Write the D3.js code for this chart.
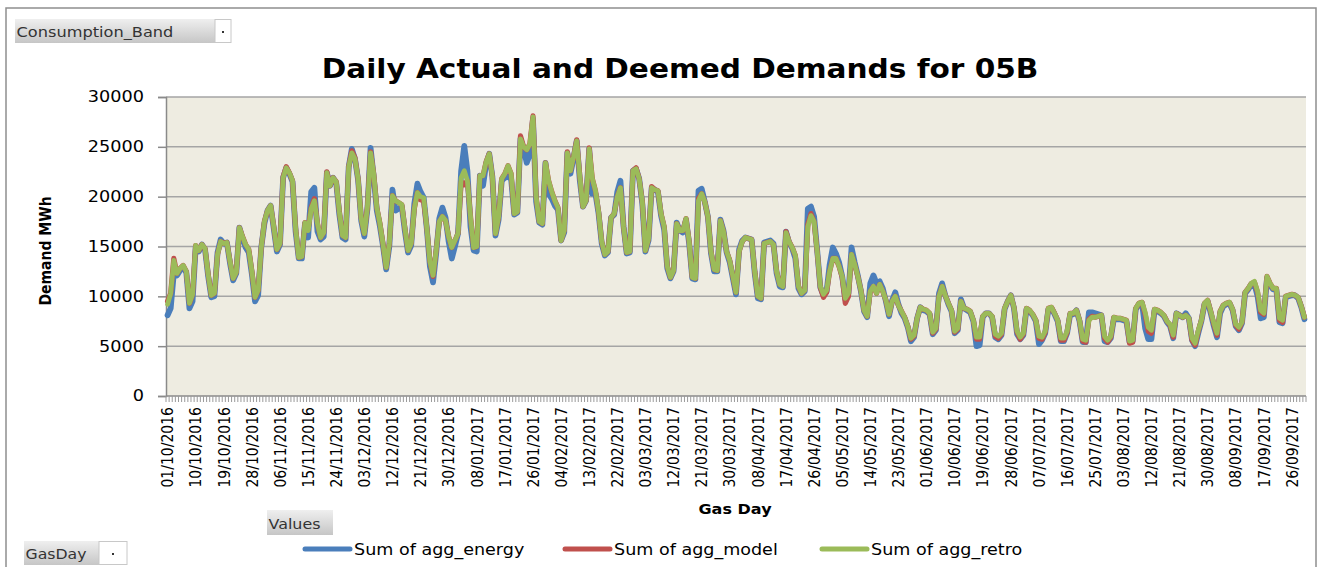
<!DOCTYPE html>
<html>
<head>
<meta charset="utf-8">
<script src="https://cdn.jsdelivr.net/npm/d3@7"></script>
<style>
  body { margin: 0; background: #fff; }
  svg text { font-family: "DejaVu Sans", Verdana, sans-serif; }
</style>
</head>
<body>
<div id="viz"></div>
<script>
// gas days 01/10/2016 .. 30/09/2017
const gasDays = d3.timeDay.range(new Date(2016, 9, 1), new Date(2017, 9, 1));
const fmtDay = d3.timeFormat("%d/%m/%Y");
const categories = gasDays.map(fmtDay);

const tickLabels = [
  "01/10/2016", "10/10/2016", "19/10/2016", "28/10/2016", "06/11/2016", "15/11/2016", "24/11/2016",
  "03/12/2016", "12/12/2016", "21/12/2016", "30/12/2016", "08/01/2017", "17/01/2017", "26/01/2017",
  "04/02/2017", "13/02/2017", "22/02/2017", "03/03/2017", "12/03/2017", "21/03/2017", "30/03/2017",
  "08/04/2017", "17/04/2017", "26/04/2017", "05/05/2017", "14/05/2017", "23/05/2017", "01/06/2017",
  "10/06/2017", "19/06/2017", "28/06/2017", "07/07/2017", "16/07/2017", "25/07/2017", "03/08/2017",
  "12/08/2017", "21/08/2017", "30/08/2017", "08/09/2017", "17/09/2017", "26/09/2017"
];

const yTicks = [0, 5000, 10000, 15000, 20000, 25000, 30000];

const seriesNames = ["Sum of agg_energy", "Sum of agg_model", "Sum of agg_retro"];
const seriesColors = ["#4a7ebb", "#c0504d", "#9bbb59"];

const aggEnergy = [
  8100,8800,12300,12100,12600,12900,12400,8800,9500,14900,
  14500,15200,14700,12000,9900,10000,14400,15700,15300,15400,
  13300,11600,12300,16900,15800,14900,14400,12200,9500,10100,
  14900,17300,18600,19100,16800,14500,15200,21900,22900,22300,
  21500,16500,13800,13800,17300,15900,20500,20900,16500,15700,
  16000,22400,21100,21900,21400,18200,15900,15700,23000,24800,
  23800,21700,17600,16000,18800,24900,22000,18600,17000,15000,
  12700,15000,20700,18600,18800,19000,16500,14400,15100,19300,
  21300,20500,19900,16800,13000,11400,14300,17800,18900,17900,
  15500,13800,15000,16300,22600,25100,22600,17000,14600,14500,
  22100,21100,23300,24300,22000,16100,17700,21600,21900,22000,
  21800,18200,18400,25800,24800,23400,24200,27800,19500,17400,
  17200,23400,20300,19800,19100,18700,15600,16400,24400,22300,
  23900,25600,21600,19000,19600,24800,20300,20300,18300,15300,
  14100,14400,17900,18200,20500,21600,17000,14300,14400,22600,
  22800,21800,19300,14500,15600,20900,20700,20500,18100,16700,
  12800,11800,12500,17400,16600,16400,17700,15300,11800,11700,
  20600,20800,19500,18000,14300,12500,12500,17700,16600,14400,
  13400,11800,10200,14700,15600,15900,15800,15700,12300,9800,
  9700,15400,15500,15600,15300,12300,11000,10900,16500,15400,
  14800,13800,10800,10200,10500,18800,19000,18000,14600,10900,
  10100,10500,13200,14900,14300,13400,12000,9700,10300,14900,
  13400,12100,10500,8500,7900,11300,12100,11300,11500,10800,
  9500,8000,9600,10400,9200,8300,7800,6900,5500,5900,
  7800,8900,8600,8500,8200,6200,6600,10300,11300,10100,
  9200,8500,6300,6600,9700,8800,8600,8400,7500,5000,
  5100,7900,8300,8300,7900,5900,5700,6100,8700,9500,
  10100,8800,6200,5700,6100,8700,8500,8100,7500,5200,
  5600,6300,8700,8800,8200,7500,5500,5500,6300,8200,
  8200,8600,7500,5400,5400,8400,8400,8300,8200,8100,
  5500,5400,5800,7800,7700,7700,7600,7500,5400,5500,
  8700,9200,9300,6800,5700,5700,8600,8500,8300,8000,
  7400,7000,5800,8300,8100,7900,8300,7800,5600,5000,
  6300,7500,9200,9500,8300,7000,5900,8300,9000,9200,
  9300,8600,7000,6600,7300,10300,10700,11200,11200,10000,
  7800,7900,11800,11100,10700,10700,7400,7300,9900,10000,
  10100,10100,9800,8900,7700
];

const aggModel = [
  9500,10300,13800,12300,12800,13100,12500,9300,10200,15100,
  14600,15200,14800,12200,10100,10300,14200,15500,15300,15400,
  13500,11800,12400,16900,16000,15200,14700,12500,9900,10600,
  14900,17500,18600,19100,17000,14700,15300,22000,23000,22400,
  21600,16800,13900,14000,17400,16700,18900,19800,17300,15900,
  16400,22500,21100,21900,21500,18500,16100,15900,23000,24600,
  23900,21800,17800,16300,19000,24500,22300,18900,17300,15200,
  12900,15300,20100,19600,19400,19200,16800,14600,15300,18800,
  20400,19700,19600,16900,13500,12000,14600,17500,18000,17600,
  16000,14900,15600,16300,21500,21200,21600,18000,14900,15000,
  22100,22100,23500,24300,22000,16300,18000,21800,22300,23100,
  22300,18300,18500,26100,25000,24700,25300,28100,20000,17500,
  17300,23400,21600,20500,19600,18900,15600,16600,24500,22600,
  24000,25700,22000,19000,19600,24900,21800,20600,18500,15500,
  14200,14500,17900,18300,20000,20900,17000,14400,14500,22600,
  22900,21800,19500,14600,15800,21000,20700,20600,18300,17000,
  13000,11900,12600,17300,16600,16600,17800,15500,11900,11800,
  19800,20300,19500,18000,14500,12700,12600,17600,16500,14500,
  13600,12000,10400,14500,15500,15900,15800,15700,12500,10000,
  9800,15300,15400,15500,15200,12500,11200,11000,16500,15500,
  14900,14100,11000,10300,10600,17200,18300,17500,14500,10900,
  9900,10400,12500,13800,13800,13000,11900,9300,10000,14200,
  13200,12000,10600,8600,8000,10500,11000,10300,11200,10500,
  9600,8200,9500,10000,9100,8500,7900,7000,5700,6000,
  7800,8900,8700,8600,8300,6300,6700,10000,11000,10100,
  9300,8600,6400,6700,9500,8800,8700,8500,7600,5700,
  5700,8000,8300,8300,8000,6000,5800,6200,8800,9500,
  10100,8900,6400,5700,6200,8800,8600,8200,7600,5800,
  5700,6400,8800,8900,8300,7600,5600,5600,6400,8300,
  8300,8600,7600,5500,5400,7700,8000,7900,8000,8100,
  5800,5400,5900,7900,7800,7800,7700,7600,5300,5400,
  8800,9300,9400,8200,6500,6300,8700,8600,8400,8100,
  7500,7100,5900,8300,8100,7900,8100,7800,5600,5100,
  6500,7600,9300,9600,8500,7200,6100,8500,9100,9300,
  9400,8700,7100,6700,7400,10400,10800,11300,11400,10400,
  8400,8200,12000,11300,10800,10800,7600,7400,10000,10100,
  10200,10100,9900,9000,7900
];

const aggRetro = [
  9200,10300,13600,12300,12800,13100,12500,9300,10200,15100,
  14600,15200,14800,12200,10100,10300,14200,15500,15300,15400,
  13500,11800,12400,16900,16000,15200,14700,12500,9900,10600,
  14900,17500,18600,19100,17000,14700,15300,21900,22900,22400,
  21600,16800,13900,14000,17400,16600,18800,19600,17300,15900,
  16400,22400,21100,21900,21500,18500,16100,15900,23000,24400,
  23800,21800,17800,16300,19000,24400,22300,18900,17300,15200,
  12900,15300,20100,19600,19400,19200,16800,14600,15300,18800,
  20400,20000,19900,16900,13500,12100,14600,17500,18000,17600,
  16000,14900,15600,16300,21900,22600,21600,18000,14900,15000,
  22100,22100,23500,24300,22000,16300,18000,21800,22300,23100,
  22300,18300,18500,25800,25000,24700,25300,28000,20000,17500,
  17300,23400,21600,20500,19600,18900,15600,16600,24400,22600,
  24000,25600,22000,19000,19600,24800,21800,20600,18500,15500,
  14200,14500,17900,18300,20000,20900,17000,14400,14500,22600,
  22800,21800,19500,14600,15800,20900,20700,20600,18300,17000,
  13000,11900,12600,17300,16600,16600,17800,15500,11900,11800,
  19600,20300,19500,18000,14500,12700,12600,17600,16500,14500,
  13600,12000,10400,14500,15500,15900,15800,15700,12500,10000,
  9800,15300,15400,15500,15200,12500,11200,11000,16400,15500,
  14900,14100,11000,10300,10600,17000,18100,17500,14500,11000,
  10200,10600,12500,13800,13800,13000,12000,9800,10300,14200,
  13200,12000,10600,8600,8000,10500,11000,10300,11200,10500,
  9600,8200,9500,10000,9100,8500,7900,7000,5800,6100,
  7800,8900,8700,8600,8300,6400,6800,10000,11000,10100,
  9300,8600,6500,6800,9500,8800,8700,8500,7600,5900,
  5900,8000,8300,8300,8000,6200,6000,6300,8800,9500,
  10100,8900,6500,5900,6300,8800,8600,8200,7600,6000,
  5900,6500,8800,8900,8300,7600,5800,5800,6500,8300,
  8300,8600,7600,5700,5600,7600,7900,7900,8000,8100,
  6000,5600,6000,7900,7800,7800,7700,7600,5500,5600,
  8800,9300,9400,8400,6900,6600,8700,8600,8400,8100,
  7500,7200,6100,8300,8100,7900,8100,7800,5800,5300,
  6600,7600,9300,9600,8500,7300,6300,8500,9100,9300,
  9400,8700,7200,6900,7400,10400,10800,11300,11500,10500,
  8600,8300,12000,11300,10800,10800,7800,7600,10000,10100,
  10200,10100,9900,9000,7900
];

const width = 1322;
const height = 567;
const plot = { left: 166, right: 1306, top: 97, bottom: 396 };
const stretch = 1.17; // the picture is a little wider than tall

const svg = d3.select("#viz").append("svg")
  .attr("width", width)
  .attr("height", height);

// text with a horizontal stretch around its anchor point
function addText(parent, x, y, str, extra) {
  const g = parent.append("g").attr("transform", `translate(${x},${y}) scale(${stretch},1)`);
  const t = g.append("text").text(str);
  if (extra) extra(t);
  return t;
}
// text fitted to a measured width in the picture
function fitText(parent, x, y, str, w, extra) {
  const g = parent.append("g");
  const t = g.append("text").text(str);
  if (extra) extra(t);
  const natural = t.node().getComputedTextLength();
  g.attr("transform", `translate(${x},${y}) scale(${w / natural},1)`);
  return t;
}

// outer frame
svg.append("path")
  .attr("d", `M6,${height} V8 H1316 V${height}`)
  .attr("fill", "none")
  .attr("stroke", "#8f8f8f")
  .attr("stroke-width", 1.5);

const x = d3.scaleBand().domain(categories).range([plot.left, plot.right]);
const xc = c => x(c) + x.bandwidth() / 2;
const y = d3.scaleLinear().domain([0, 30000]).range([plot.bottom, plot.top]);

// plot area
svg.append("rect")
  .attr("x", plot.left).attr("y", plot.top)
  .attr("width", plot.right - plot.left).attr("height", plot.bottom - plot.top)
  .attr("fill", "#eeece1");

svg.append("g").selectAll("line")
  .data(yTicks.filter(d => d > 0))
  .enter().append("line")
  .attr("x1", plot.left).attr("x2", plot.right)
  .attr("y1", d => y(d)).attr("y2", d => y(d))
  .attr("stroke", "#a5a5a5")
  .attr("stroke-width", 1.5);

// y axis
const yAxis = svg.append("g")
  .attr("transform", `translate(${plot.left},0)`)
  .call(d3.axisLeft(y).tickValues(yTicks).tickSize(8).tickFormat(d3.format("d")));
yAxis.select(".domain").attr("stroke", "#8a8a8a").attr("stroke-width", 1.5);
yAxis.selectAll(".tick line").attr("stroke", "#8a8a8a").attr("stroke-width", 1.5);
yAxis.selectAll(".tick text")
  .attr("x", 0)
  .attr("dy", "0.32em")
  .attr("transform", `translate(-22,0) scale(1.14,1)`)
  .attr("fill", "#000")
  .style("font-size", "15.5px")
  .style("font-family", "DejaVu Sans, Verdana, sans-serif");

// x axis: a tick for every gas day
const xAxis = svg.append("g");
xAxis.append("line")
  .attr("x1", plot.left).attr("x2", plot.right)
  .attr("y1", plot.bottom).attr("y2", plot.bottom)
  .attr("stroke", "#8a8a8a").attr("stroke-width", 1.5);
xAxis.selectAll(".dtick")
  .data(categories.concat(["end"]))
  .enter().append("line")
  .attr("class", "dtick")
  .attr("x1", d => d === "end" ? plot.right : x(d))
  .attr("x2", d => d === "end" ? plot.right : x(d))
  .attr("y1", plot.bottom).attr("y2", plot.bottom + 6)
  .attr("stroke", "#9a9a9a").attr("stroke-width", 1);

tickLabels.forEach(lbl => {
  svg.append("text")
    .attr("transform", `translate(${xc(lbl)},407) scale(${stretch},1) rotate(-90)`)
    .attr("text-anchor", "end")
    .attr("dy", "0.35em")
    .style("font-size", "14px")
    .attr("fill", "#000")
    .text(lbl);
});

// series lines
const series = [
  { name: seriesNames[0], values: aggEnergy, color: seriesColors[0], w: 5.8 },
  { name: seriesNames[1], values: aggModel, color: seriesColors[1], w: 5.2 },
  { name: seriesNames[2], values: aggRetro, color: seriesColors[2], w: 4.8 }
];
const line = d3.line()
  .x((v, i) => xc(categories[i]))
  .y(v => y(v));

svg.append("g").selectAll("path")
  .data(series)
  .enter().append("path")
  .attr("d", d => line(d.values))
  .attr("fill", "none")
  .attr("stroke", d => d.color)
  .attr("stroke-width", d => d.w)
  .attr("stroke-linejoin", "round")
  .attr("stroke-linecap", "round");

// title and axis titles
fitText(svg, 680, 78, "Daily Actual and Deemed Demands for 05B", 717, t => t
  .attr("text-anchor", "middle")
  .style("font-size", "26px")
  .style("font-weight", "bold"));

addText(svg, 735, 514, "Gas Day", t => t
  .attr("text-anchor", "middle")
  .style("font-size", "13.7px")
  .style("font-weight", "bold"));

svg.append("text")
  .attr("transform", `translate(45,251) scale(${stretch},1) rotate(-90)`)
  .attr("text-anchor", "middle")
  .attr("dy", "0.35em")
  .style("font-size", "14px")
  .style("font-weight", "bold")
  .text("Demand MWh");

// legend
const legendX = [305, 565, 822];
series.forEach((s, i) => {
  svg.append("line")
    .attr("x1", legendX[i]).attr("x2", legendX[i] + 45)
    .attr("y1", 549).attr("y2", 549)
    .attr("stroke", s.color)
    .attr("stroke-width", 5)
    .attr("stroke-linecap", "round");
  addText(svg, legendX[i] + 49, 555, s.name, t => t
    .style("font-size", "15px")
    .attr("fill", "#000"));
});

// pivot field buttons
const defs = svg.append("defs");
const grad = defs.append("linearGradient")
  .attr("id", "btn").attr("x1", 0).attr("y1", 0).attr("x2", 0).attr("y2", 1);
grad.append("stop").attr("offset", "0%").attr("stop-color", "#efefef");
grad.append("stop").attr("offset", "100%").attr("stop-color", "#c6c6c6");

function button(bx, by, bw, bh, label, textW, dropW) {
  svg.append("rect")
    .attr("x", bx).attr("y", by).attr("width", bw).attr("height", bh)
    .attr("fill", "url(#btn)");
  fitText(svg, bx + 1.5, by + bh - 6.5, label, textW, t => t
    .style("font-size", "14.5px")
    .attr("fill", "#333"));
  if (dropW) {
    svg.append("rect")
      .attr("x", bx + bw).attr("y", by + 0.5).attr("width", dropW).attr("height", bh - 1)
      .attr("fill", "#fff")
      .attr("stroke", "#c8c8c8");
    svg.append("rect")
      .attr("x", bx + bw + dropW / 2 - 1).attr("y", by + bh / 2).attr("width", 2).attr("height", 2)
      .attr("fill", "#333");
  }
}
button(15, 19, 200, 24, "Consumption_Band", 157, 16);
button(267, 510, 66, 25, "Values", 52, 0);
button(24, 541, 75, 24, "GasDay", 61, 28);
</script>
</body>
</html>
